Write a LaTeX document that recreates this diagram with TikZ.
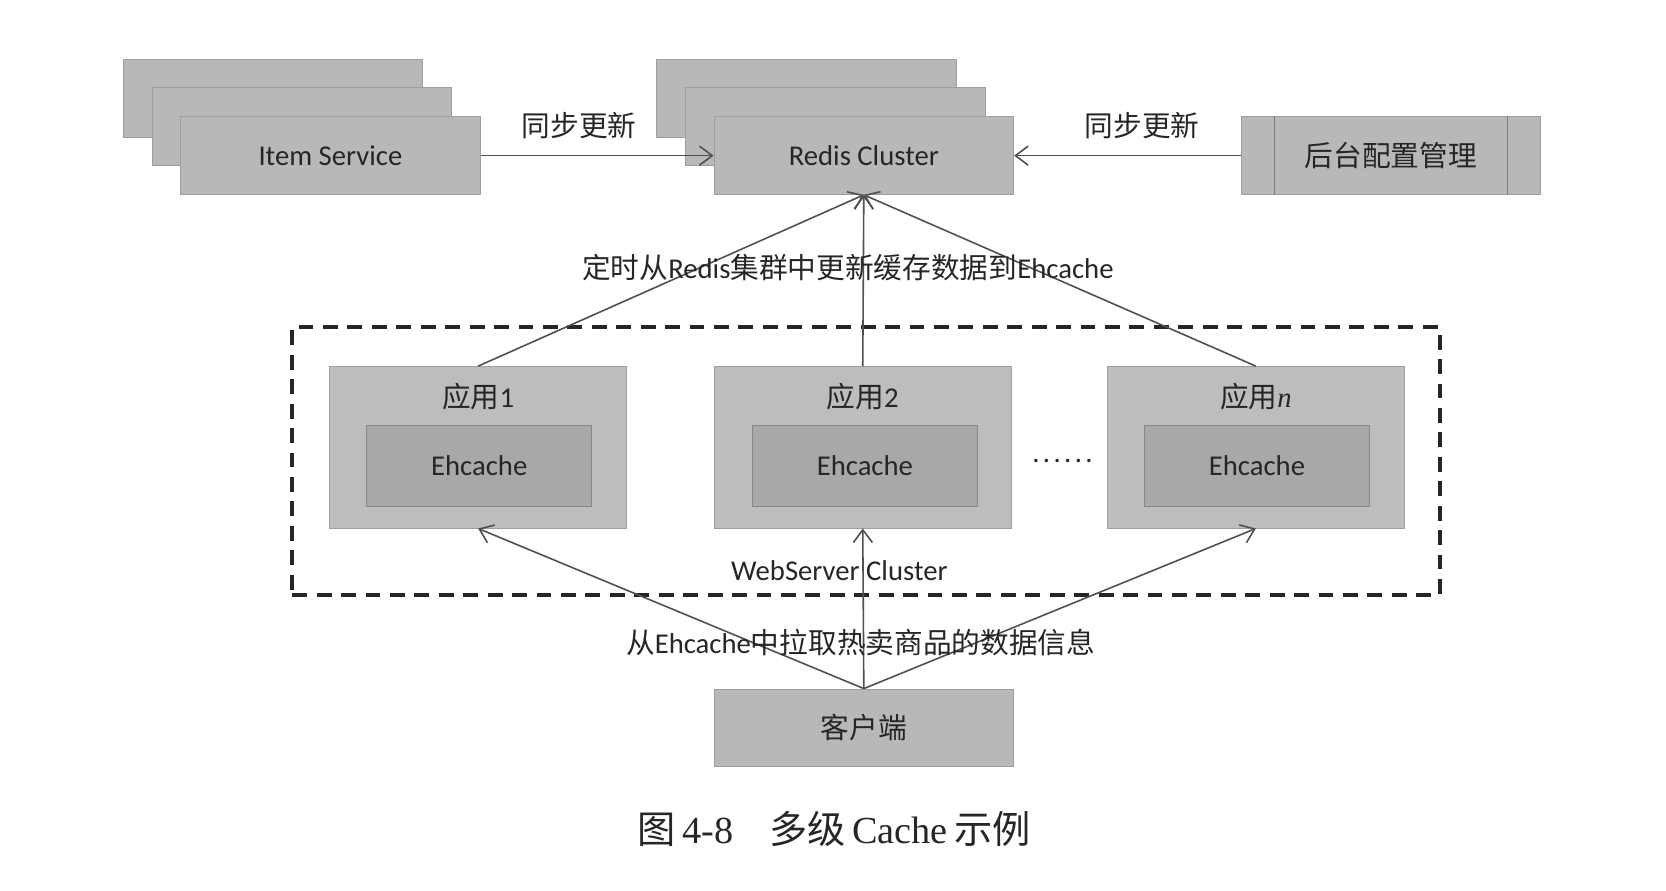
\documentclass[tikz,border=0pt]{standalone}
\usepackage{fontspec}
\setmainfont{Carlito}
\newfontfamily\cjk{Noto Sans CJK SC}
\newfontfamily\capfont{Liberation Serif}
\usetikzlibrary{arrows.meta,calc}
\definecolor{boxgray}{RGB}{184,184,184}
\definecolor{appgray}{RGB}{189,189,189}
\definecolor{innergray}{RGB}{168,168,168}
\definecolor{edgegray}{RGB}{158,158,158}
\definecolor{linegray}{RGB}{80,80,80}
\definecolor{txt}{RGB}{38,38,38}
\begin{document}
\begin{tikzpicture}[x=0.5pt,y=-0.5pt,
  box/.style={draw=edgegray, line width=0.4pt, fill=boxgray, minimum width=141pt,
    minimum height=36.5pt, inner sep=0pt, text=txt, font=\fontsize{13.5}{16}\selectfont},
  appbox/.style={draw=edgegray, line width=0.4pt, fill=appgray, minimum width=140pt,
    minimum height=76pt, inner sep=0pt},
  cachebox/.style={draw=edgegray!85!black, line width=0.4pt, fill=innergray, minimum width=106pt,
    minimum height=38.5pt, inner sep=0pt, text=txt, font=\fontsize{13.5}{16}\selectfont},
  lbl/.style={inner sep=0pt, text=txt, font=\fontsize{13.5}{16}\selectfont},
  conn/.style={draw=linegray, line width=0.75pt, -{Straight Barb[length=6pt,width=9pt]}},
  webbox/.style={draw=black!85, line width=2pt, dash pattern=on 7pt off 4.5pt,
    minimum width=540pt, minimum height=126pt, inner sep=0pt}
]
\useasboundingbox (0,0) rectangle (1568,838);

% Item Service stack
\node[box] (is3) at (257,92.5) {};
\node[box] (is2) at (284,119) {};
\node[box] (is1) at (311,146.5) {Item Service};

% Redis stack
\node[box] (rc3) at (759,92.5) {};
\node[box] (rc2) at (786,119) {};
\node[box] (rc1) at (813,146.5) {Redis Cluster};

% admin box
\node[box] (ht) at (1309,146.5) {\cjk 后台配置管理};
\draw[edgegray!80!black, line width=0.5pt] ($(ht.north west)+(32,0)$) -- ($(ht.south west)+(32,0)$);
\draw[edgegray!80!black, line width=0.5pt] ($(ht.north east)+(-32,0)$) -- ($(ht.south east)+(-32,0)$);

\draw[conn] (is1) -- (rc1);
\draw[conn] (ht) -- (rc1);
\node[lbl] (sync1) at (545,118) {\cjk 同步更新};
\node[lbl] (sync2) at (1075,118) {\cjk 同步更新};

% WebServer cluster dashed
\node[webbox] (web) at (815,434) {};

% apps
\node[appbox] (a1) at (450,421) {};
\node[appbox] (a2) at (812,421) {};
\node[appbox] (an) at (1182,421) {};
\node[cachebox] (e1) at (451,438.5) {Ehcache};
\node[cachebox] (e2) at (814,438.5) {Ehcache};
\node[cachebox] (en) at (1183,438.5) {Ehcache};
\node[lbl] (t1) at (450,373) {{\cjk 应用}1};
\node[lbl] (t2) at (812,373) {{\cjk 应用}2};
\node[lbl] (tn) at (1182,373) {{\cjk 应用}{\capfont\itshape n}};
\node[lbl] (dots) at (1000,434) {.\kern1.6pt.\kern1.6pt.\kern1.6pt.\kern1.6pt.\kern1.6pt.};

% client
\node[box] (cl) at (813,685) {\cjk 客户端};

% app -> redis
\draw[conn] (a1.north) -- (rc1.south);
\draw[conn] (a2.north) -- (rc1.south);
\draw[conn] (an.north) -- (rc1.south);
\node[lbl] (up) at (798,252) {{\cjk 定时从}Redis{\cjk 集群中更新缓存数据到}Ehcache};

% client -> apps
\draw[conn] (cl.north) -- (a1.south);
\draw[conn] (cl.north) -- (a2.south);
\draw[conn] (cl.north) -- (an.south);
\node[lbl] (wsc) at (790,537) {WebServer Cluster};
\node[lbl] (pull) at (810,605) {{\cjk 从}Ehcache{\cjk 中拉取热卖商品的数据信息}};

% caption
\node[inner sep=0pt, text=black!85, font=\fontsize{18}{20}\selectfont] (cap) at (785,780)
  {{\cjk 图}\,{\capfont 4-8}\hspace{17pt}{\cjk 多级}\,{\capfont Cache}\,{\cjk 示例}};
\end{tikzpicture}
\end{document}
